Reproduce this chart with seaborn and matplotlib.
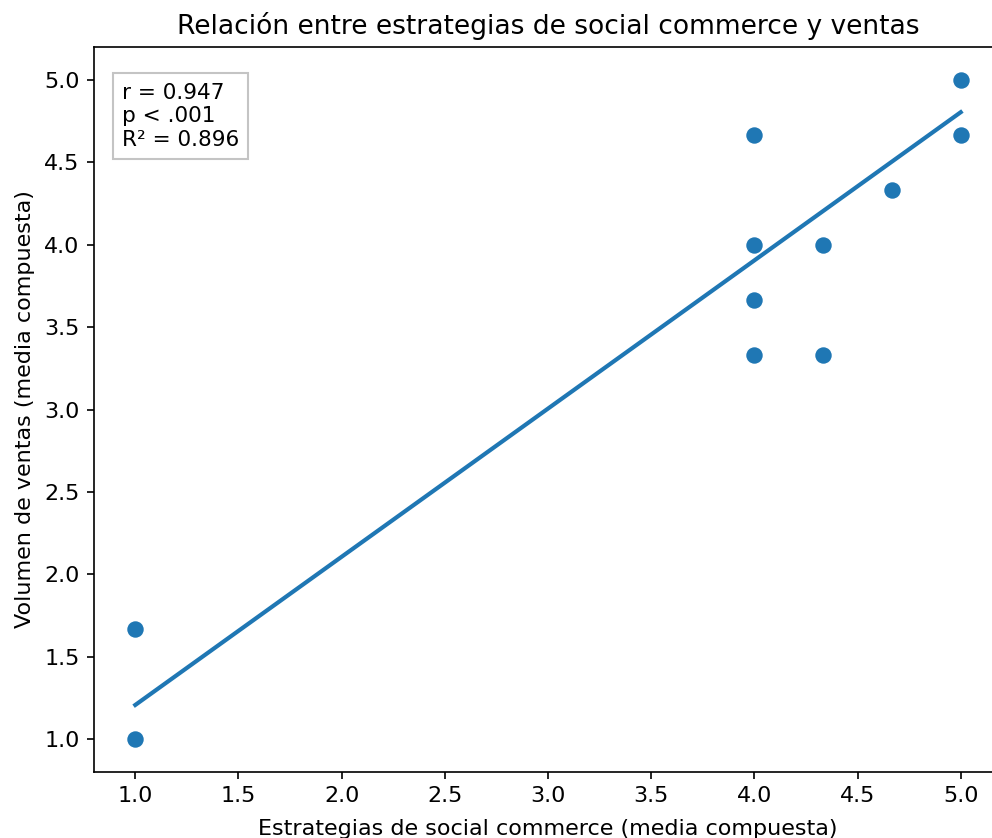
import matplotlib
matplotlib.use("Agg")
import matplotlib.pyplot as plt
import seaborn as sns
import pandas as pd

# Composite means per respondent (mean of three Likert items each)
estrategias = [1.0, 1.0,
               4.0, 4.0, 4.0, 4.0, 4.0, 4.0, 4.0, 4.0,
               4.333, 4.333, 4.667,
               5.0, 5.0, 5.0, 5.0, 5.0, 5.0, 5.0, 5.0]
ventas = [1.0, 1.667,
          3.333, 3.333, 3.667, 4.0, 4.0, 4.0, 4.0, 4.667,
          3.333, 4.0, 4.333,
          4.667, 5.0, 5.0, 5.0, 5.0, 5.0, 5.0, 5.0]

stats_lines = ["r = 0.947", "p < .001", "R\u00b2 = 0.896"]

df = pd.DataFrame({"estrategias": estrategias, "ventas": ventas})
# repeated answers share one marker
unique_pts = df.drop_duplicates()

plt.rcParams.update({
    "font.family": ["DejaVu Sans"],
    "axes.linewidth": 1.2,
    "xtick.major.size": 5.25,
    "ytick.major.size": 5.25,
    "xtick.major.width": 1.2,
    "ytick.major.width": 1.2,
    "xtick.major.pad": 5.0,
    "ytick.major.pad": 5.0,
    "xtick.labelsize": 16,
    "ytick.labelsize": 16,
})

fig = plt.figure(figsize=(9.92, 8.38), dpi=100)
ax = fig.add_axes([94 / 992, 66 / 838, 908 / 992, 725 / 838])

sns.scatterplot(data=unique_pts, x="estrategias", y="ventas", ax=ax,
                color="#1f77b4", s=140, linewidth=0, zorder=3)
sns.regplot(data=df, x="estrategias", y="ventas", ax=ax, ci=None,
            scatter=False, color="#1f77b4",
            line_kws={"linewidth": 3.0})

ax.set_xlim(0.8, 5.2)
ax.set_ylim(0.8, 5.2)
ax.set_xticks([1.0, 1.5, 2.0, 2.5, 3.0, 3.5, 4.0, 4.5, 5.0])
ax.set_yticks([1.0, 1.5, 2.0, 2.5, 3.0, 3.5, 4.0, 4.5, 5.0])

ax.set_title("Relación entre estrategias de social commerce y ventas",
             fontsize=19.1, pad=9)
ax.set_xlabel("Estrategias de social commerce (media compuesta)",
              fontsize=16, labelpad=9)
ax.set_ylabel("Volumen de ventas (media compuesta)", fontsize=16, labelpad=7)

ax.text(0.031, 0.951, "\n".join(stats_lines), transform=ax.transAxes,
        fontsize=15.6, va="top", ha="left", linespacing=1.22,
        bbox=dict(boxstyle="square,pad=0.42", facecolor="white",
                  edgecolor="#c4c4c4", linewidth=1.5))

fig.savefig("out.png", dpi=100)
